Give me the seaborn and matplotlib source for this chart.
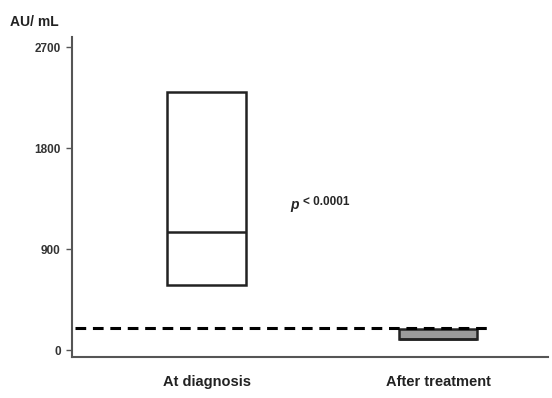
import matplotlib
matplotlib.use("Agg")
import matplotlib.pyplot as plt
import seaborn as sns
import pandas as pd

# Data
categories = ["At diagnosis", "After treatment"]
# five-number style values (min, Q1, median, Q3, max) per group
at_diagnosis = [580, 580, 1050, 2300, 2300]
after_treatment = [95, 95, 95, 190, 190]
cutoff = 200
y_ticks = [0, 900, 1800, 2700]
y_label = "AU/ mL"
p_text = "< 0.0001"

sns.set_theme(style="white")
plt.rcParams["font.family"] = ["Liberation Sans", "DejaVu Sans"]

df = pd.DataFrame({
    "group": [categories[0]] * len(at_diagnosis) + [categories[1]] * len(after_treatment),
    "value": at_diagnosis + after_treatment,
})

fig = plt.figure(figsize=(5.52, 3.98), dpi=100)
ax = fig.add_axes([0.130, 0.103, 0.863, 0.804])

sns.boxplot(data=df, x="group", y="value", order=categories, ax=ax,
            width=0.34, whis=0, showfliers=False, showcaps=False,
            palette=["white", "#9a9a9a"], hue="group", legend=False,
            linecolor="#222222", linewidth=1.8)

ax.hlines(cutoff, -0.57, 1.23, colors="black", linestyles=(0, (3.5, 2.2)),
          linewidth=2.2, zorder=5)

ax.set_ylim(-62, 2790)
ax.set_xlim(-0.584, 1.476)
ax.set_yticks(y_ticks)
ax.set_yticklabels([str(t) for t in y_ticks], fontsize=8.5, fontweight="bold", color="#333333")
ax.set_xticks(range(len(categories)))
ax.set_xticklabels(categories, fontsize=10.5, fontweight="bold", color="#222222")
ax.tick_params(axis="x", length=0, pad=13)
ax.tick_params(axis="y", length=4, width=1, color="#555555", direction="out", left=True, pad=4)
ax.set_xlabel("")
ax.set_ylabel("")
for s in ["top", "right"]:
    ax.spines[s].set_visible(False)
for s in ["left", "bottom"]:
    ax.spines[s].set_color("#555555")
    ax.spines[s].set_linewidth(1.5)

fig.text(0.018, 0.945, y_label, fontsize=10, fontweight="bold", color="#222222", va="center")
ax.text(0.36, 1290, "p", fontsize=10, fontstyle="italic", fontweight="bold", va="center", ha="left")
ax.text(0.415, 1320, p_text, fontsize=8.5, fontweight="bold", va="center", ha="left")

fig.savefig("out.png", dpi=100)
